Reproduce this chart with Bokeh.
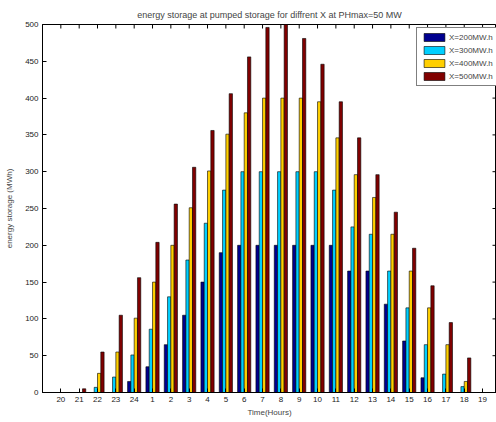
import math
from bokeh.plotting import figure
from bokeh.models import (FixedTicker, Legend, LegendItem, Range1d,
                          ColumnDataSource)
from bokeh.embed import file_html
from bokeh.resources import INLINE

# ---- data ----
hours = ["20", "21", "22", "23", "24", "1", "2", "3", "4", "5", "6", "7",
         "8", "9", "10", "11", "12", "13", "14", "15", "16", "17", "18", "19"]
x200 = [0, 0, 0, 0, 15, 35, 65, 105, 150, 190, 200, 200,
        200, 200, 200, 200, 165, 165, 120, 70, 20, 0, 0, 0]
x300 = [0, 0, 7, 21, 51, 86, 130, 180, 230, 275, 300, 300,
        300, 300, 300, 275, 225, 215, 165, 115, 65, 25, 8, 0]
x400 = [0, 0, 26, 55, 101, 150, 200, 251, 301, 351, 380, 400,
        400, 400, 395, 346, 296, 265, 215, 165, 115, 65, 15, 0]
x500 = [0, 5, 55, 105, 156, 204, 256, 306, 356, 406, 456, 496,
        500, 481, 446, 395, 346, 296, 245, 196, 145, 95, 47, 0]
series_labels = ["X=200MW.h", "X=300MW.h", "X=400MW.h", "X=500MW.h"]
series_colors = ["#00008F", "#00CFFF", "#FFCF00", "#800000"]
y_ticks = [0, 50, 100, 150, 200, 250, 300, 350, 400, 450, 500]

FONT = "Liberation Sans"
pos = list(range(1, len(hours) + 1))
X_END = 24.76
Y_END = 500

p = figure(width=496, height=422, output_backend="svg", toolbar_location=None,
           x_range=Range1d(0, X_END), y_range=Range1d(0, Y_END),
           min_border_left=42, min_border_right=0, min_border_top=24,
           min_border_bottom=30)

p.title.text = "energy storage at pumped storage for diffrent X at PHmax=50 MW"
p.title.text_font = FONT
p.title.text_font_size = "9px"
p.title.text_font_style = "normal"
p.title.align = "center"
p.title.offset = 8

p.xgrid.visible = False
p.ygrid.visible = False
p.outline_line_color = "black"
p.background_fill_color = "white"
p.border_fill_color = "white"

bw = 0.18
offsets = [-1.5 * bw, -0.5 * bw, 0.5 * bw, 1.5 * bw]
items = []
for vals, lab, col, off in zip([x200, x300, x400, x500], series_labels,
                               series_colors, offsets):
    src = ColumnDataSource(dict(x=[q + off for q in pos], top=vals))
    r = p.vbar(x="x", top="top", width=bw, source=src, fill_color=col,
               line_color="black", line_width=0.6)
    items.append(LegendItem(label=lab, renderers=[r]))

# inward ticks on the top and right edges of the box
p.scatter(x=pos, y=[Y_END] * len(pos), marker="dash", size=8,
          angle=math.pi / 2, line_color="black", line_width=1)
p.scatter(x=[X_END] * len(y_ticks), y=y_ticks, marker="dash", size=8,
          line_color="black", line_width=1)

xa = p.xaxis[0]
xa.ticker = FixedTicker(ticks=pos)
xa.major_label_overrides = {q: h for q, h in zip(pos, hours)}
ya = p.yaxis[0]
ya.ticker = FixedTicker(ticks=y_ticks)
for ax in (xa, ya):
    ax.major_tick_in = 4
    ax.major_tick_out = 0
    ax.minor_tick_in = 0
    ax.minor_tick_out = 0
    ax.major_label_text_font = FONT
    ax.major_label_text_font_size = "8px"
    ax.major_label_text_color = "#222222"
    ax.axis_label_text_font = FONT
    ax.axis_label_text_font_size = "8px"
    ax.axis_label_text_font_style = "normal"
    ax.axis_line_color = "black"
    ax.major_tick_line_color = "black"
xa.axis_label = "Time(Hours)"
ya.axis_label = "energy storage (MWh)"
xa.major_label_standoff = 4
xa.axis_label_standoff = 3
ya.major_label_standoff = 4
ya.axis_label_standoff = 8

legend = Legend(items=items, location=(374, 306))
legend.glyph_width = 26
legend.glyph_height = 10
legend.label_height = 10
legend.spacing = 3
legend.padding = 4
legend.margin = 0
legend.label_standoff = 2
legend.label_text_font = FONT
legend.label_text_font_size = "8px"
legend.border_line_color = "black"
legend.border_line_width = 1
legend.background_fill_alpha = 1
p.add_layout(legend)

open("out.html", "w").write(file_html(p, INLINE))
